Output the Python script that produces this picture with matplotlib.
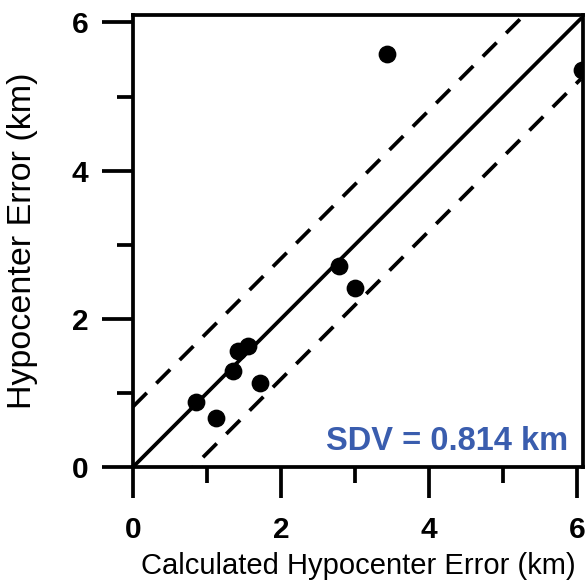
import numpy as np
import matplotlib.pyplot as plt
from matplotlib.ticker import MultipleLocator

plt.rcParams['font.family'] = ['Liberation Sans', 'DejaVu Sans']

# calculated vs. observed hypocenter error (km)
calc_err = [0.85, 1.12, 1.35, 1.42, 1.56, 1.71, 2.79, 3.00, 3.43, 6.06]
obs_err = [0.88, 0.66, 1.30, 1.56, 1.63, 1.14, 2.71, 2.41, 5.57, 5.36]
sdv = 0.814
ticks = [0, 2, 4, 6]

fig = plt.figure(figsize=(5.87, 5.85), dpi=100)
ax = fig.add_axes([133 / 587, 118 / 585, 450 / 587, 452 / 585])

# 1:1 line and +/- SDV band
xl = np.array([0, 6.05])
ax.plot(xl, xl, color='black', lw=2.7, solid_capstyle='round')
ax.plot(xl, xl + sdv, color='black', lw=2.7, dashes=(5.2, 3.6))
ax.plot(xl, xl - sdv, color='black', lw=2.7, dashes=(5.2, 3.6))

ax.plot(calc_err, obs_err, 'o', color='black', ms=11.8, zorder=3)

ax.set_xlim(0, 6.08)
ax.set_ylim(0, 6.1)

for s in ax.spines.values():
    s.set_linewidth(2.7)

ax.set_xticks(ticks)
ax.set_yticks(ticks)
ax.xaxis.set_minor_locator(MultipleLocator(1))
ax.yaxis.set_minor_locator(MultipleLocator(1))
ax.tick_params(which='major', length=22.3, width=2.7, labelsize=21.5)
ax.tick_params(which='minor', length=11.5, width=2.7)
ax.tick_params(axis='x', which='major', pad=13)
ax.tick_params(axis='y', which='major', pad=10)
for lab in ax.get_xticklabels() + ax.get_yticklabels():
    lab.set_fontweight('bold')

ax.set_xlabel('Calculated Hypocenter Error (km)', fontsize=21)
ax.set_ylabel('Hypocenter Error (km)', fontsize=24.5)
ax.xaxis.set_label_coords(0.5, -0.188)
ax.yaxis.set_label_coords(-0.212, 0.5)

ax.text(0.967, 0.038, 'SDV = 0.814 km', transform=ax.transAxes,
        ha='right', va='baseline', fontsize=23.5, fontweight='bold',
        color='#3A5DAE')

fig.savefig('out.png', dpi=100)
